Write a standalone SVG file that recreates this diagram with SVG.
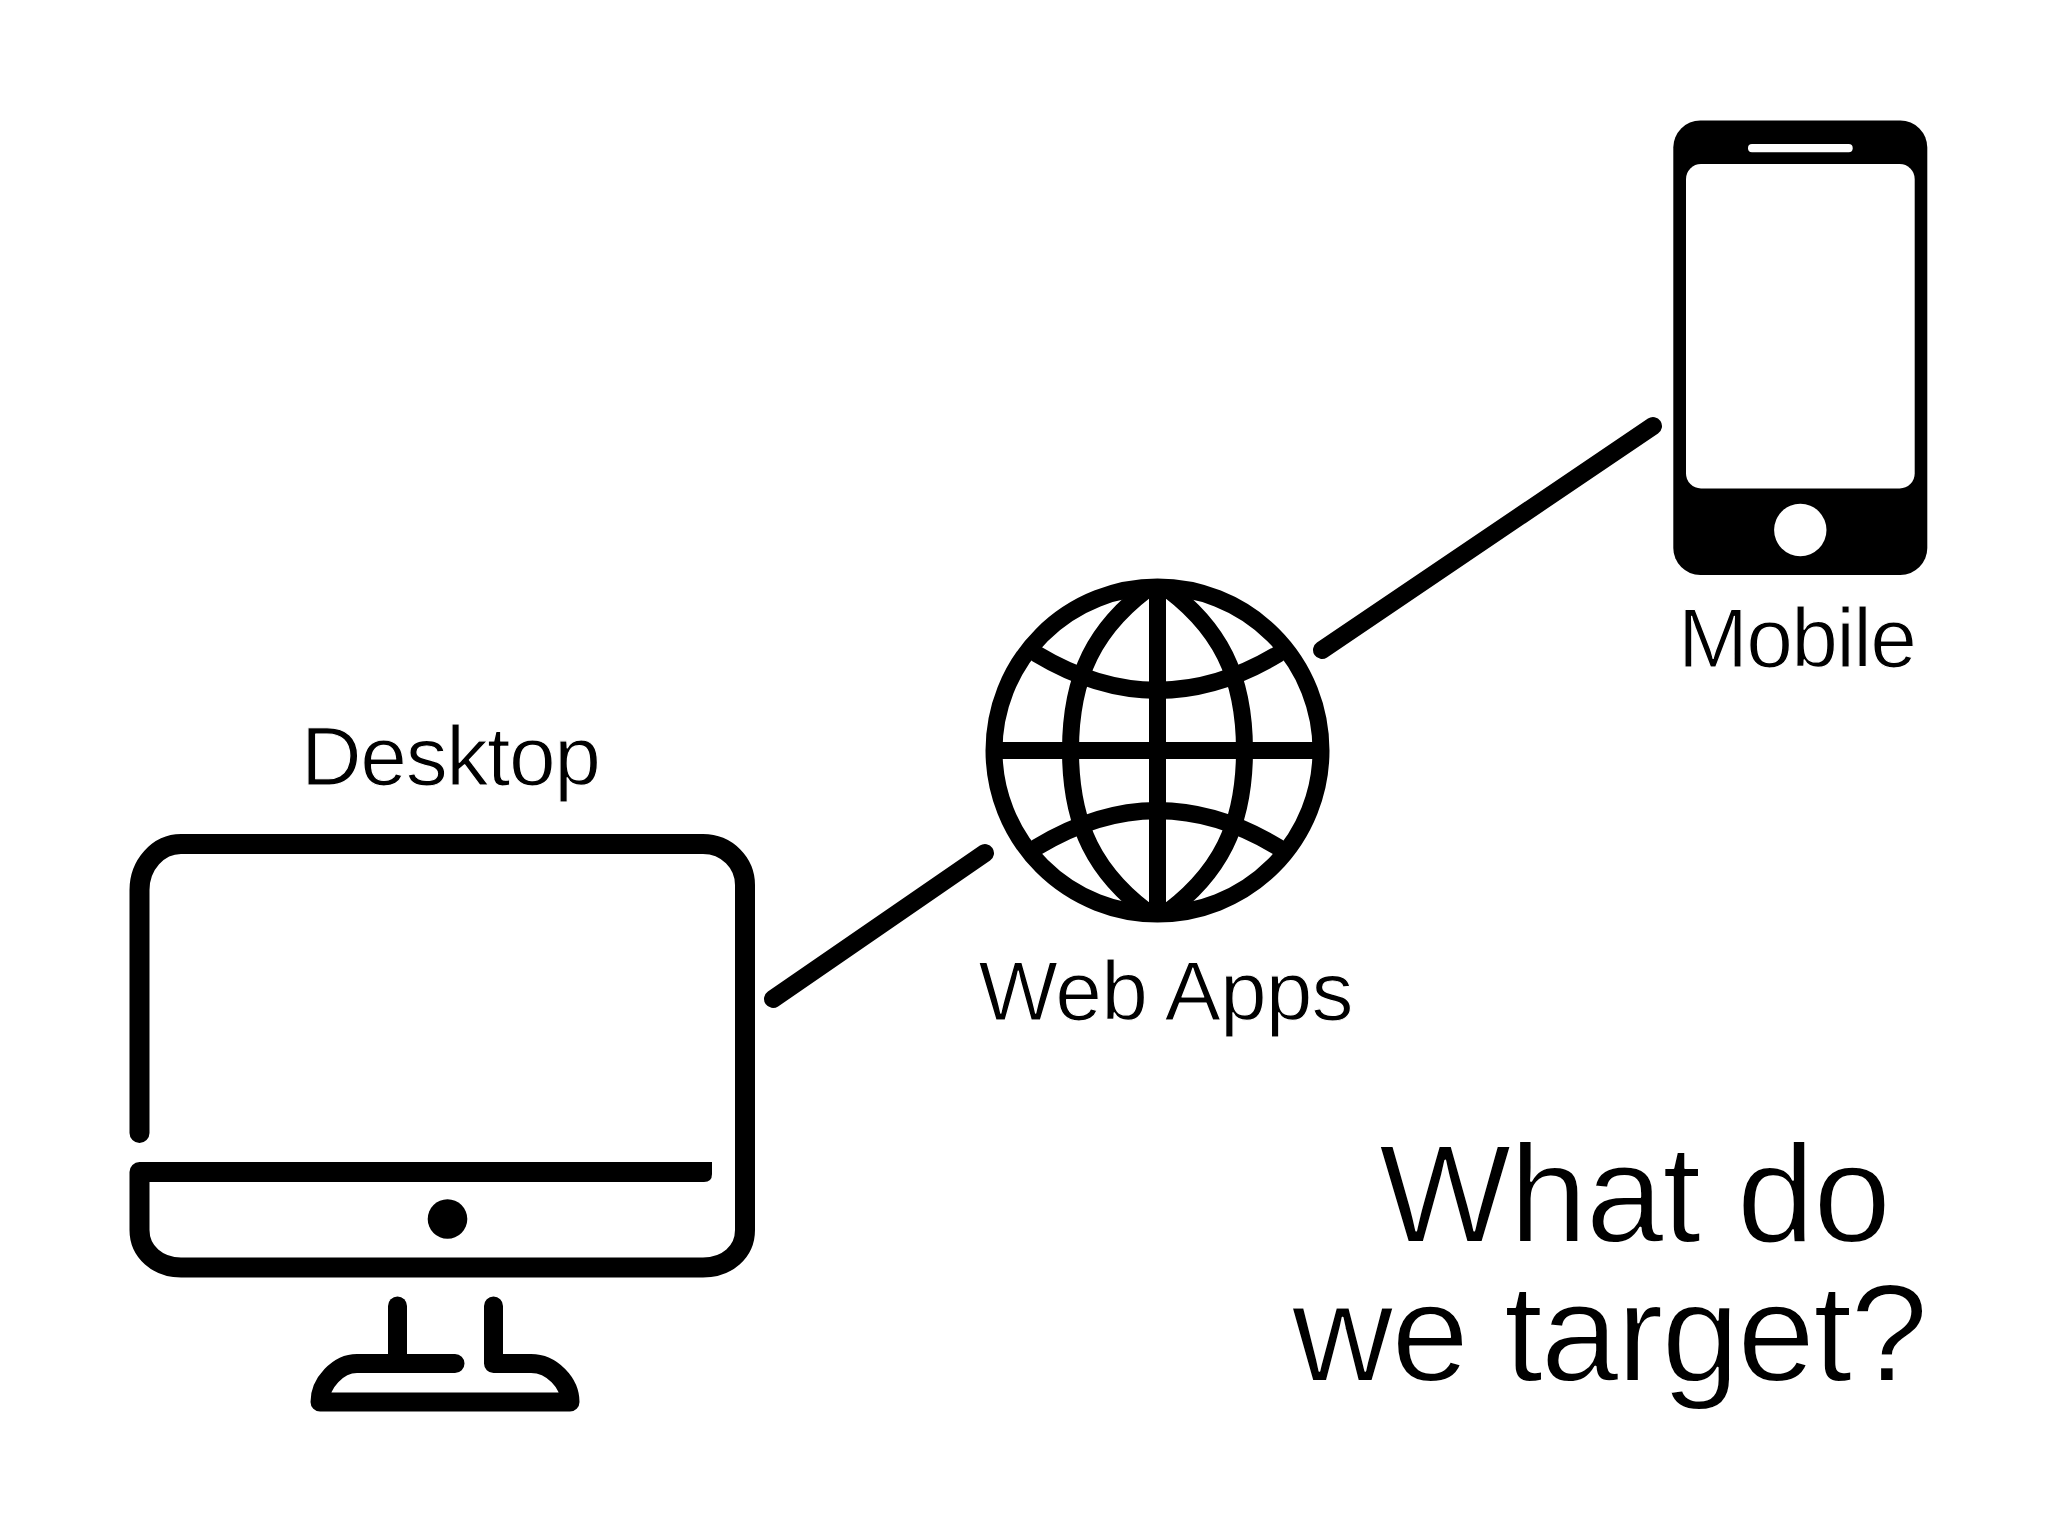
<svg xmlns="http://www.w3.org/2000/svg" width="2048" height="1535" viewBox="0 0 2048 1535">
<style>
.line{fill:none;stroke:#000;stroke-linecap:round;stroke-linejoin:round}
.t{font-family:"Liberation Sans",Arial,sans-serif;fill:#000;stroke:#fff;stroke-linejoin:round}
.s{font-size:84px;stroke-width:1.200px}
.b{font-size:140px;stroke-width:1.800px}
</style>
<defs><clipPath id="globe-clip"><circle cx="1157.500" cy="750.500" r="170"/></clipPath></defs>
<rect width="2048" height="1535" fill="#fff"/>
<g id="connectors">
<path class="line" stroke-width="18" d="M773 999L985 853"/>
<path class="line" stroke-width="18" d="M1322 650L1653 426"/>
</g>
<g id="desktop">
<path class="line" stroke-width="20" d="M139.500 1133V890C139.500 865 158 844 181 844H703C727 844 745 863 745 885V1230C745 1252 727 1267.500 703 1267.500H181C158 1267.500 139.500 1252 139.500 1230V1172H695"/>
<path d="M690 1162H712V1174Q712 1182 704 1182H690Z"/>
<circle cx="447.500" cy="1219" r="19.800"/>
<path class="line" stroke-width="19" d="M455 1363.500H357C338 1363.500 320 1383 320 1402H570C570 1383 552 1363.500 531 1363.500H493.500V1306"/>
<path class="line" stroke-width="19" d="M397.500 1306V1363.500"/>
<text class="t s" x="301" y="784.500" textLength="300">Desktop</text>
</g>
<g id="web-apps">
<g class="line" stroke-width="17">
<circle cx="1157.500" cy="750.500" r="163.500"/>
<path d="M1157.500 590V911M994.500 750.500H1320.500"/>
<path clip-path="url(#globe-clip)" d="M1157.500 582C1093 626 1070.500 678.500 1070.500 750.500C1070.500 822.500 1093 875 1157.500 919C1222 875 1244.500 822.500 1244.500 750.500C1244.500 678.500 1222 626 1157.500 582Z"/>
<path d="M1036.700 654Q1157.500 726.600 1278.300 654M1036.700 847.300Q1157.500 774 1278.300 847.300"/>
</g>
<text class="t s" x="978.500" y="1019.500" textLength="375">Web Apps</text>
</g>
<g id="mobile">
<rect x="1673.300" y="120.500" width="254" height="454.500" rx="27" fill="#000"/>
<rect x="1686" y="164" width="228.700" height="324.500" rx="15" fill="#fff"/>
<rect x="1748" y="144" width="104.700" height="8.300" rx="4" fill="#fff"/>
<circle cx="1800.300" cy="530" r="26.200" fill="#fff"/>
<text class="t s" x="1678" y="666.500" textLength="239">Mobile</text>
</g>
<g id="title">
<text class="t b" x="1379" y="1241.500" textLength="512">What do</text>
<text class="t b" x="1292" y="1380.500" textLength="636">we target?</text>
</g>
</svg>
